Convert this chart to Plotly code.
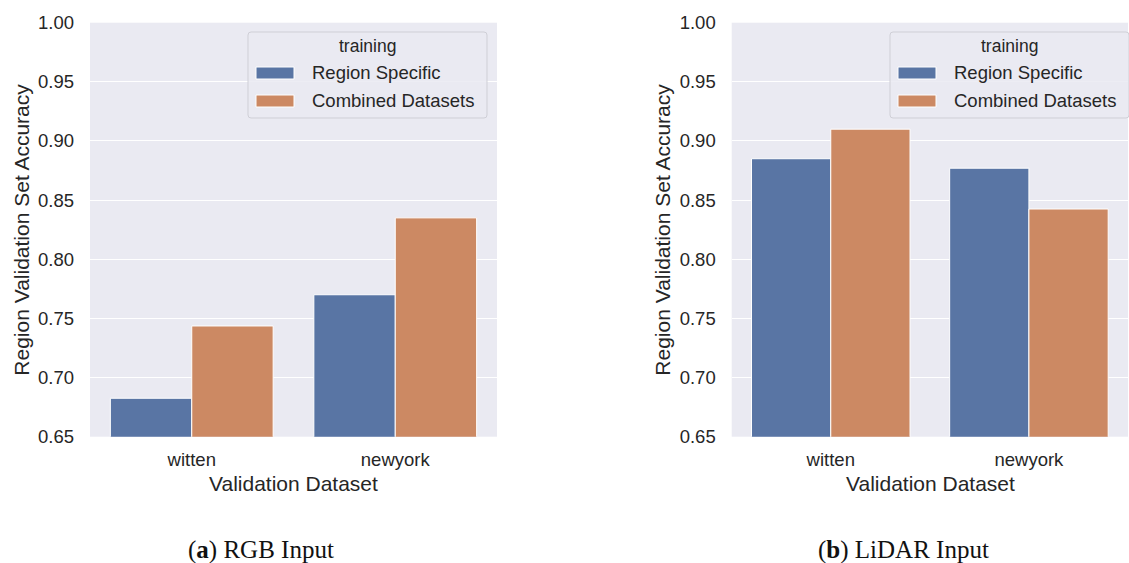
import plotly.graph_objects as go

# Validation accuracy per region, for two input types
categories = ["witten", "newyork"]
series_names = ["Region Specific", "Combined Datasets"]
rgb_region_specific = [0.6825, 0.770]
rgb_combined = [0.7436, 0.835]
lidar_region_specific = [0.885, 0.877]
lidar_combined = [0.910, 0.8425]
y_ticks = [0.65, 0.70, 0.75, 0.80, 0.85, 0.90, 0.95, 1.00]

W, H = 1129, 563
BLUE = "#5975A4"
ORANGE = "#CC8963"
COLORS = [BLUE, ORANGE]
TXT = "#262626"
SANS = "Liberation Sans, Arial, sans-serif"


def px(x):
    return x / W


def py(y):
    return 1 - y / H


fig = go.Figure()

panels = [
    ("x", "y", rgb_region_specific, rgb_combined),
    ("x2", "y2", lidar_region_specific, lidar_combined),
]
for xa, ya, rs, cb in panels:
    for name, vals, col in zip(series_names, [rs, cb], COLORS):
        fig.add_trace(go.Bar(
            x=categories, y=vals, name=name, xaxis=xa, yaxis=ya,
            marker=dict(color=col, line=dict(color="white", width=1)),
            showlegend=False,
        ))

axis_common = dict(
    gridcolor="white", gridwidth=1, zeroline=False, automargin=False,
    showline=False, ticks="", tickfont=dict(family=SANS, size=18.5, color=TXT),
)

y_dom = [py(436.7), py(22.7)]
fig.update_layout(
    width=W, height=H,
    margin=dict(l=0, r=0, t=0, b=0, pad=0),
    paper_bgcolor="white", plot_bgcolor="#EAEAF2",
    barmode="group", bargap=0.2, bargroupgap=0,
    font=dict(family=SANS, color=TXT),
    showlegend=False,
    xaxis=dict(domain=[px(90), px(497)], anchor="y", range=[-0.5, 1.5],
               showgrid=False, ticklabelstandoff=10, **axis_common),
    yaxis=dict(domain=y_dom, anchor="x", range=[0.65, 1.0], tickvals=y_ticks,
               tickformat=".2f", showgrid=True, ticklabelstandoff=15, **axis_common),
    xaxis2=dict(domain=[px(731.7), px(1128)], anchor="y2", range=[-0.5, 1.5],
                showgrid=False, ticklabelstandoff=10, **axis_common),
    yaxis2=dict(domain=y_dom, anchor="x2", range=[0.65, 1.0], tickvals=y_ticks,
                tickformat=".2f", showgrid=True, ticklabelstandoff=15, **axis_common),
)

annotations = []
shapes = []

# Legend boxes ("training") drawn in the upper right of each panel
for dx in (0.0, 642.0):
    x0, x1, y0, y1, r = 248 + dx, 487 + dx, 32, 118, 3
    path = (
        f"M {px(x0 + r)},{py(y0)} L {px(x1 - r)},{py(y0)} "
        f"Q {px(x1)},{py(y0)} {px(x1)},{py(y0 + r)} "
        f"L {px(x1)},{py(y1 - r)} Q {px(x1)},{py(y1)} {px(x1 - r)},{py(y1)} "
        f"L {px(x0 + r)},{py(y1)} Q {px(x0)},{py(y1)} {px(x0)},{py(y1 - r)} "
        f"L {px(x0)},{py(y0 + r)} Q {px(x0)},{py(y0)} {px(x0 + r)},{py(y0)} Z"
    )
    shapes.append(dict(type="path", path=path, xref="paper", yref="paper",
                       fillcolor="rgba(234,234,242,0.85)",
                       line=dict(color="#CFCFD6", width=1), layer="above"))
    annotations.append(dict(
        text="training", x=px(367 + dx), y=py(46), xref="paper", yref="paper",
        showarrow=False, font=dict(family=SANS, size=17.5, color=TXT),
        xanchor="center", yanchor="middle",
    ))
    for i, (name, col) in enumerate(zip(series_names, COLORS)):
        yc = 73 + 28 * i
        shapes.append(dict(type="rect", xref="paper", yref="paper",
                           x0=px(256 + dx), x1=px(294 + dx),
                           y0=py(yc - 6), y1=py(yc + 6),
                           fillcolor=col, line=dict(color="white", width=1),
                           layer="above"))
        annotations.append(dict(
            text=name, x=px(310 + dx), y=py(yc), xref="paper", yref="paper",
            showarrow=False, font=dict(family=SANS, size=18.5, color=TXT),
            xanchor="left", yanchor="middle",
        ))

# Axis titles and panel captions
for cx, tx in [(293.5, 22), (930, 663)]:
    annotations.append(dict(
        text="Validation Dataset", x=px(cx), y=py(483), xref="paper", yref="paper",
        showarrow=False, font=dict(family=SANS, size=21, color=TXT),
        xanchor="center", yanchor="middle",
    ))
    annotations.append(dict(
        text="Region Validation Set Accuracy", x=px(tx), y=py(229.7),
        xref="paper", yref="paper", textangle=-90, showarrow=False,
        font=dict(family=SANS, size=21, color=TXT),
        xanchor="center", yanchor="middle",
    ))
for cx, lbl, title in [(261, "a", "RGB Input"), (903, "b", "LiDAR Input")]:
    annotations.append(dict(
        text=f"(<b>{lbl}</b>) {title}", x=px(cx), y=py(550),
        xref="paper", yref="paper", showarrow=False,
        font=dict(family="Liberation Serif, serif", size=25, color="#111111"),
        xanchor="center", yanchor="middle",
    ))
fig.update_layout(annotations=annotations, shapes=shapes)

fig.write_html("out.html")
